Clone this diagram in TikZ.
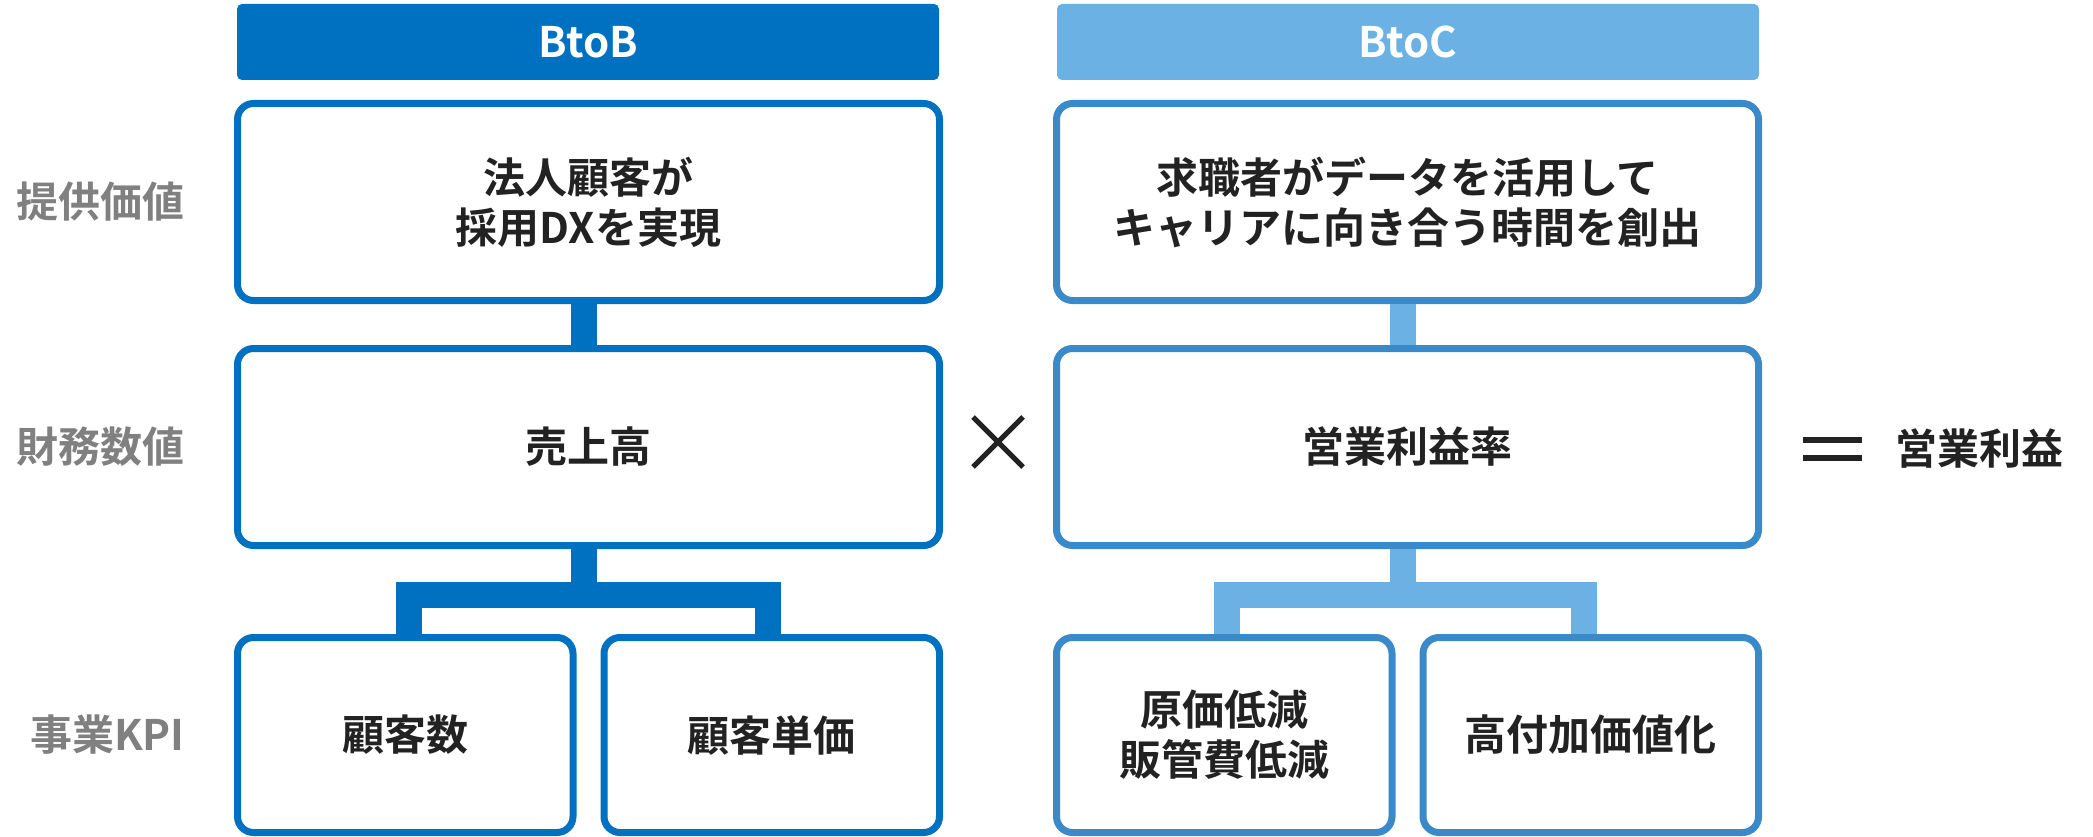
\documentclass[tikz,border=0pt]{standalone}
\usepackage{fontspec}
\setmainfont{Noto Sans CJK JP}[BoldFont={* Bold}]
\usepackage{xcolor}
\definecolor{BtoBBlue}{HTML}{0070C0}
\definecolor{BtoCLight}{HTML}{6BB1E3}
\definecolor{BtoCBorder}{HTML}{3A89C9}
\definecolor{TextDark}{HTML}{222222}
\definecolor{LabelGray}{HTML}{808080}
\usepackage{tikz}
\usetikzlibrary{
  positioning
}
\newcommand{\cellfont}{\fontsize{42}{50}\selectfont\bfseries}
\tikzset{
  % Column header
  bhead/.style={
    fill=BtoBBlue,
    rounded corners=5pt,
    minimum width=702pt,
    minimum height=76pt,
    inner sep=0pt,
    text=white,
    font=\cellfont
  },
  chead/.style={bhead, fill=BtoCLight},
  % Content box
  bcell/.style={
    draw=BtoBBlue,
    line width=7pt,
    fill=white,
    rounded corners=16pt,
    minimum width=702pt,
    minimum height=197pt,
    inner sep=0pt,
    align=center,
    text=TextDark,
    font=\cellfont
  },
  ccell/.style={bcell, draw=BtoCBorder},
  % Small content box
  bsub/.style={bcell, minimum width=335.5pt, minimum height=195pt},
  csub/.style={bsub, draw=BtoCBorder},
  % Connector
  bedge/.style={draw=BtoBBlue, line width=26pt},
  cedge/.style={bedge, draw=BtoCLight},
  % Row label
  rlabel/.style={anchor=east, inner sep=0pt, text=LabelGray, font=\cellfont},
  % Operator
  opline/.style={draw=TextDark, line width=5pt}
}
\begin{document}
\begin{tikzpicture}[x=1pt, y=-1pt]
  \useasboundingbox (0,0) rectangle (2093,837);
  % Row labels
  \foreach \y/\t [count=\i] in {202/提供価値, 447/財務数値, 735/事業KPI} {
    \node[rlabel] (row\i) at (185,\y) {\t};
  }
  % BtoB column
  \node[bhead] (bh) at (588,42) {BtoB};
  \node[bcell] (bv) at (588.5,202) {法人顧客が\\採用DXを実現};
  \node[bcell] (bs) at (588.5,447) {売上高};
  \node[bsub] (bk1) at (405.25,735) {顧客数};
  \node[bsub] (bk2) at (771.75,735) {顧客単価};
  % BtoC column
  \node[chead] (ch) at (1408,42) {BtoC};
  \node[ccell] (cv) at (1407.5,202) {求職者がデータを活用して\\キャリアに向き合う時間を創出};
  \node[ccell] (cs) at (1407.5,447) {営業利益率};
  \node[csub] (ck1) at (1224.25,735) {原価低減\\販管費低減};
  \node[csub] (ck2) at (1590.75,735) {高付加価値化};
  % Result
  \node[anchor=west, inner sep=0pt, text=TextDark, font=\cellfont] (profit) at (1895,449) {営業利益};
  % Connectors
  \coordinate (bbar) at (583.5,595);
  \coordinate (cbar) at (1402.5,595);
  \draw[bedge] ([xshift=-5]bv.south) -- ([xshift=-5]bs.north);
  \draw[bedge] ([xshift=-5]bs.south) -- (bbar);
  \draw[bedge] ([xshift=4]bk1.north) |- (bbar) -| ([xshift=-4]bk2.north);
  \draw[cedge] ([xshift=-5]cv.south) -- ([xshift=-5]cs.north);
  \draw[cedge] ([xshift=-5]cs.south) -- (cbar);
  \draw[cedge] ([xshift=3]ck1.north) |- (cbar) -| ([xshift=-7]ck2.north);
  % Times and equals
  \coordinate (times) at (998,442);
  \draw[opline] ([shift={(-25,-25)}]times) -- ([shift={(25,25)}]times);
  \draw[opline] ([shift={(-25,25)}]times) -- ([shift={(25,-25)}]times);
  \coordinate (equals) at (1832.5,449);
  \foreach \dy in {-9,9} {
    \draw[opline, line width=6pt] ([shift={(-29.5,\dy)}]equals) -- ([shift={(29.5,\dy)}]equals);
  }
\end{tikzpicture}
\end{document}
